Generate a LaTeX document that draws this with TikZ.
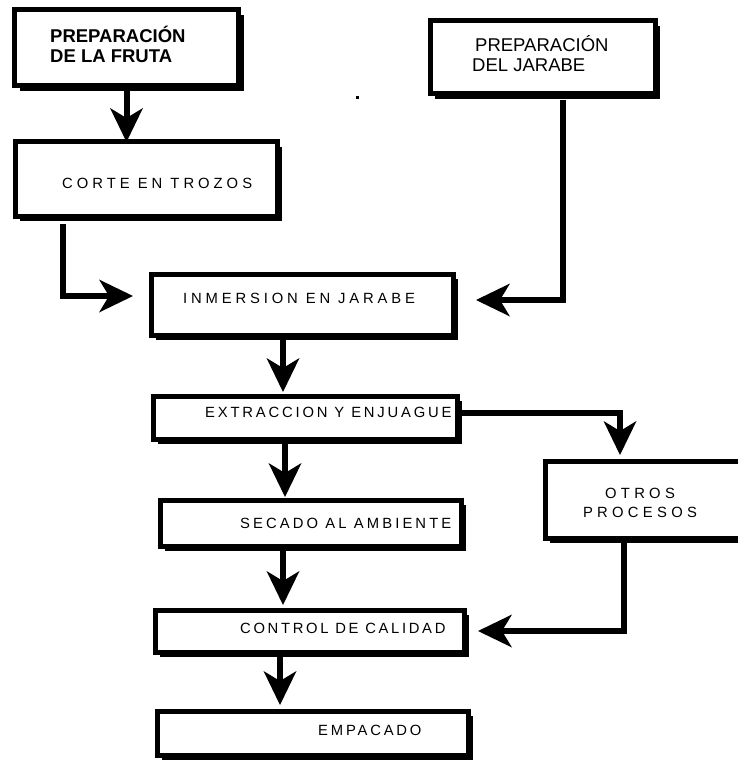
\documentclass[tikz,border=0pt]{standalone}
\usepackage{fontspec}
\setmainfont{Liberation Sans}
\usetikzlibrary{arrows.meta,calc,shadows}
\tikzset{
  box/.style={draw, fill=white, line width=5pt, inner sep=0pt, outer sep=0pt,
    drop shadow={shadow xshift=5pt, shadow yshift=-5pt, fill=black, opacity=1}},
  arr/.style={line width=6pt, -{Stealth[length=34pt,width=33pt,inset=10pt,line width=0pt]}},
  lbl/.style={inner sep=0pt, anchor=base west, font=\fontsize{14.8}{18}\selectfont\addfontfeature{LetterSpace=#1}},
  big/.style={inner sep=0pt, anchor=base west, font=\fontsize{18.5}{20}\selectfont},
}
\begin{document}
\begin{tikzpicture}[x=1pt,y=-1pt]
\useasboundingbox (0,0) rectangle (737,762);
% boxes
\node[box, minimum width=224pt, minimum height=76pt] (b1) at (126.5,48) {};
\node[box, minimum width=262pt, minimum height=74pt] (b2) at (146,179) {};
\node[box, minimum width=302pt, minimum height=61pt] (b3) at (302,304.5) {};
\node[box, minimum width=225pt, minimum height=73pt] (b4) at (542.5,57.5) {};
\node[box, minimum width=304pt, minimum height=43pt] (b5) at (305,417.5) {};
\node[box, minimum width=215pt, minimum height=77pt] (b6) at (652.5,499.5) {};
\node[box, minimum width=301pt, minimum height=46pt] (b7) at (310.5,523) {};
\node[box, minimum width=309pt, minimum height=42pt] (b8) at (309.5,631) {};
\node[box, minimum width=311pt, minimum height=44pt] (b9) at (312.5,733) {};
% texts
\node[big, font=\bfseries\fontsize{18.5}{20}\selectfont] (t1a) at (50,43) {PREPARACIÓN};
\node[big, font=\bfseries\fontsize{18.5}{20}\selectfont] (t1b) at (50,63) {DE LA FRUTA};
\node[big] (t4a) at (475,52) {PREPARACIÓN};
\node[big] (t4b) at (472,72) {DEL JARABE};
\node[lbl=27] (t2) at (62,188) {CORTE EN TROZOS};
\node[lbl=26] (t3) at (183,303) {INMERSION EN JARABE};
\node[lbl=19] (t5) at (205,417) {EXTRACCION Y ENJUAGUE};
\node[lbl=29, anchor=base] (t6a) at (640,498) {OTROS};
\node[lbl=29, anchor=base] (t6b) at (640,517) {PROCESOS};
\node[lbl=21] (t7) at (240,528) {SECADO AL AMBIENTE};
\node[lbl=18] (t8) at (240,633) {CONTROL DE CALIDAD};
\node[lbl=19] (t9) at (318,735) {EMPACADO};
% stray dot
\fill (356,96) rectangle (359,99);
% connectors
\coordinate (s1) at (b1.south);
\coordinate (s4) at ($(b3.south)+(-19,0)$);
\coordinate (s6) at ($(b5.south)+(-20,0)$);
\coordinate (s7) at ($(b7.south)+(-27.5,0)$);
\coordinate (s9) at ($(b8.south)+(-29.5,0)$);
\draw[arr, shorten <=4pt] (s1) -- (s1 |- b2.north);
\draw[arr, shorten <=8pt, shorten >=18pt] ($(b2.south west)+(48,0)$) |- ($(b3.west)+(0,-8.5)$);
\draw[arr, shorten <=6pt, shorten >=23pt] ($(b4.south)+(20.5,0)$) |- ($(b3.east)+(0,-4.5)$);
\draw[arr, shorten <=5pt, shorten >=4pt] (s4) -- (s4 |- b5.north);
\draw[arr, shorten <=4pt, shorten >=6pt] ($(b5.east)+(0,-4.5)$) -| ($(b6.north west)+(75,0)$);
\draw[arr, shorten <=5pt, shorten >=3pt] (s6) -- (s6 |- b7.north);
\draw[arr, shorten <=5pt, shorten >=5pt] (s7) -- (s7 |- b8.north);
\draw[arr, shorten <=5pt, shorten >=14pt] ($(b6.south west)+(79,0)$) |- (b8.east);
\draw[arr, shorten <=5pt, shorten >=6pt] (s9) -- (s9 |- b9.north);
\end{tikzpicture}
\end{document}
